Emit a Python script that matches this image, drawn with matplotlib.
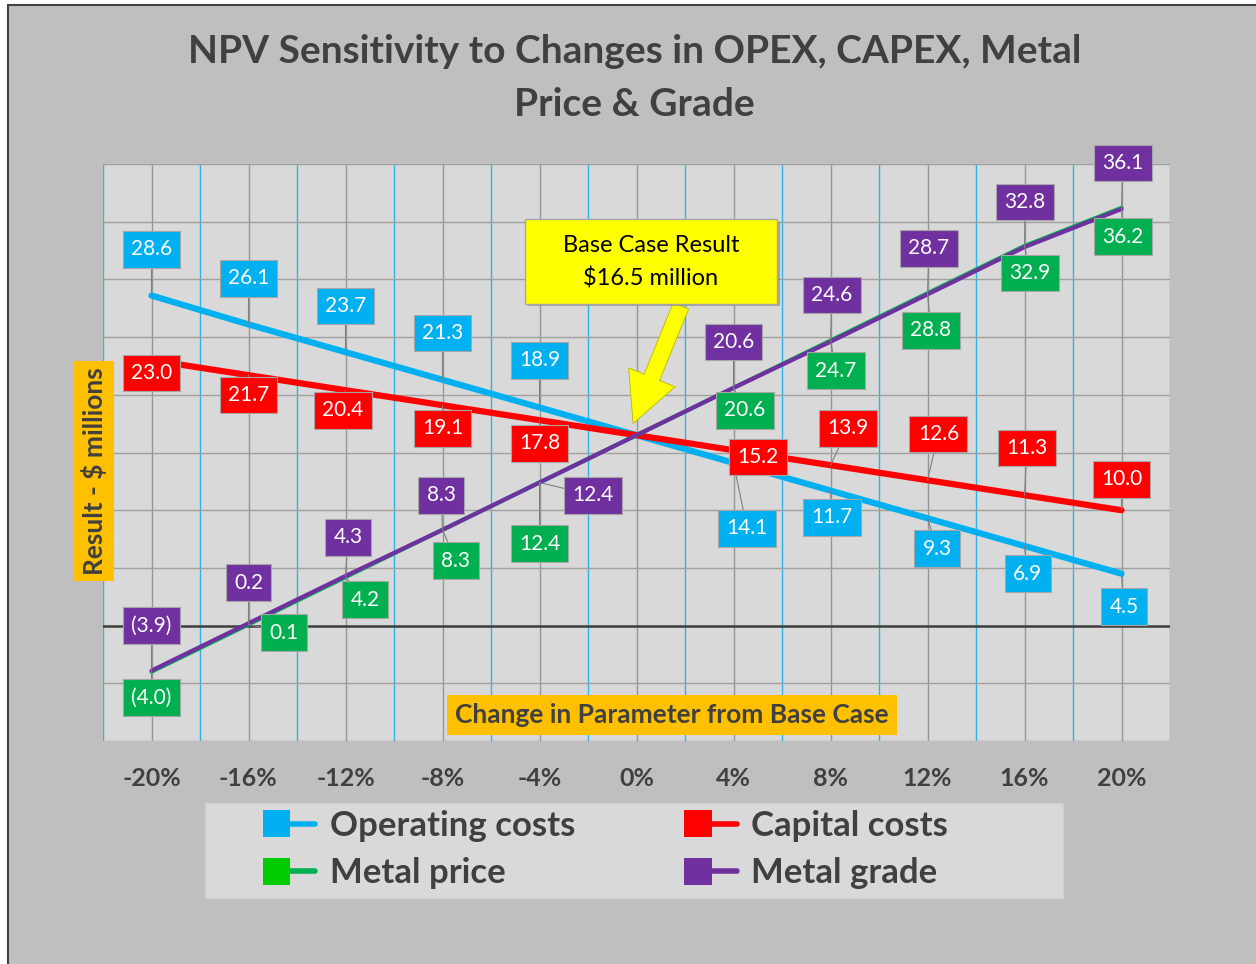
import numpy as np
import matplotlib.pyplot as plt
import matplotlib.patheffects as pe
from matplotlib.patches import Rectangle
from matplotlib.lines import Line2D
from matplotlib.legend_handler import HandlerBase

plt.rcParams['font.family'] = ['Lato', 'DejaVu Sans']

# data
changes = [-20, -16, -12, -8, -4, 0, 4, 8, 12, 16, 20]
tick_labels = ['-20%', '-16%', '-12%', '-8%', '-4%', '0%', '4%', '8%', '12%', '16%', '20%']
opex = [28.6, 26.1, 23.7, 21.3, 18.9, 16.5, 14.1, 11.7, 9.3, 6.9, 4.5]
capex = [23.0, 21.7, 20.4, 19.1, 17.8, 16.5, 15.2, 13.9, 12.6, 11.3, 10.0]
price = [-4.0, 0.1, 4.2, 8.3, 12.4, 16.5, 20.6, 24.7, 28.8, 32.9, 36.2]
grade = [-3.9, 0.2, 4.3, 8.3, 12.4, 16.5, 20.6, 24.6, 28.7, 32.8, 36.1]
base_case = 16.5

# label offsets from each point (x %, y $M); None = no label
opex_off = [(0, 4.0), (0, 4.0), (0, 4.0), (0, 4.05), (0, 4.1), None,
            (0.56, -5.68), (0.06, -2.33), (0.39, -2.62), (0.14, -2.39), (0.1, -2.85)]
capex_off = [(0, -1.1), (0, -1.73), (-0.1, -1.74), (0, -2.0), (0, -2.0), None,
             (1.0, -0.6), (0.72, 3.2), (0.45, 4.0), (0.1, 4.1), (0, 2.67)]
price_off = [(0, -2.25), (1.46, -0.7), (0.8, -1.94), (0.55, -2.66), (0, -5.3), None,
             (0.47, -1.94), (0.23, -2.6), (0.14, -3.2), (0.23, -2.34), (0.06, -2.5)]
grade_off = [(0, 3.9), (0, 3.53), (0.1, 3.34), (-0.06, 2.98), (2.21, -1.12), None,
             (0, 3.97), (0.06, 4.05), (0.06, 4.0), (0.02, 3.9), (0.05, 4.0)]

BLUE = '#00b0f0'
RED = '#ff0000'
GREEN = '#00b050'
PURPLE = '#7030a0'
DARK = '#404040'


def fmt(v):
    return '({:.1f})'.format(abs(v)) if v < 0 else '{:.1f}'.format(v)


class SquareLineHandler(HandlerBase):
    def create_artists(self, legend, orig_handle, xdescent, ydescent,
                       width, height, fontsize, trans):
        side = fontsize * 0.78
        yc = -ydescent + height / 2
        sq = Rectangle((-xdescent, yc - side / 2), side, side,
                       fc=orig_handle.get_markerfacecolor(), ec='none', transform=trans)
        ln = Line2D([-xdescent + side, -xdescent + width], [yc, yc],
                    color=orig_handle.get_color(), lw=4, solid_capstyle='round',
                    transform=trans)
        return [ln, sq]


fig = plt.figure(figsize=(12.56, 9.64), dpi=100, facecolor='white')
fig.add_artist(Rectangle((8 / 1256, -0.01), 1.1, 959 / 964 + 0.01, transform=fig.transFigure,
                         fc='#bfbfbf', ec=DARK, lw=1.5, zorder=0))

ax = fig.add_axes([103 / 1256, 223 / 964, 1067 / 1256, 577 / 964])
ax.set_facecolor('#d9d9d9')
ax.set_xlim(-22, 22)
ax.set_ylim(-10, 40)
for s in ax.spines.values():
    s.set_visible(False)

ax.set_yticks(np.arange(-10, 41, 5))
ax.set_yticklabels([])
ax.set_xticks(changes)
ax.set_xticklabels(tick_labels, fontsize=18, fontweight='bold', color=DARK)
ax.set_xticks(np.arange(-22, 23, 4), minor=True)
ax.tick_params(axis='both', which='both', length=0)
ax.tick_params(axis='x', pad=18.5)
ax.grid(axis='y', color='#a0a0a0', lw=1.0)
ax.grid(axis='x', which='major', color='#969696', lw=1.0)
ax.grid(axis='x', which='minor', color='#2fb4e8', lw=1.0)
ax.set_axisbelow(True)
ax.axhline(0, color=DARK, lw=1.8, zorder=2)

ax.plot(changes, opex, color=BLUE, lw=4.5, solid_capstyle='round', zorder=3)
ax.plot(changes, capex, color=RED, lw=4.5, solid_capstyle='round', zorder=3.1)
ax.plot(changes, price, color=GREEN, lw=3, solid_capstyle='round', zorder=3.2)
ax.plot(changes, grade, color=PURPLE, lw=3, solid_capstyle='round', zorder=3.3)

series = [(opex, opex_off, BLUE), (capex, capex_off, RED),
          (price, price_off, GREEN), (grade, grade_off, PURPLE)]
for vals, offs, col in series:
    for x, v, off in zip(changes, vals, offs):
        if off is None:
            continue
        near = abs(off[0]) < 1.2 and abs(off[1]) < 1.5
        arrow = None if near else dict(arrowstyle='-', color='#7f7f7f', lw=0.8,
                                       shrinkA=0, shrinkB=0)
        ax.annotate(fmt(v), xy=(x, v), xytext=(x + off[0], v + off[1]),
                    ha='center', va='center', color='white', fontsize=15,
                    bbox=dict(boxstyle='square,pad=0.4', fc=col, ec='#a6a6a6', lw=0.8),
                    arrowprops=arrow, zorder=6)

# base case callout
ax.annotate('', xy=(-0.14, base_case + 1.0), xytext=(1.83, 27.7),
            arrowprops=dict(arrowstyle='simple,head_length=1.8,head_width=1.8,tail_width=0.6',
                            fc='#ffff00', ec='#b8b800', lw=0.6, mutation_scale=20,
                            shrinkA=0, shrinkB=0),
            zorder=7)
box = Rectangle((-4.6, 27.9), 10.4, 7.3, fc='#ffff00', ec='#a6a6a6', lw=1, zorder=8)
box.set_path_effects([pe.SimplePatchShadow(offset=(2, -2), shadow_rgbFace='#808080', alpha=0.6),
                      pe.Normal()])
ax.add_patch(box)
ax.text(0.6, 31.5, 'Base Case Result\n$16.5 million', ha='center', va='center',
        fontsize=17, linespacing=1.65, color='black', zorder=9)

# axis title boxes
fig.text(94 / 1256, 1 - 471 / 964, 'Result - $ millions', rotation=90, ha='center', va='center',
         fontsize=19, fontweight='bold', color=DARK,
         bbox=dict(boxstyle='square,pad=0.25', fc='#ffc000', ec='none'))
fig.text(672 / 1256, 1 - 715 / 964, 'Change in Parameter from Base Case', ha='center', va='center',
         fontsize=19, fontweight='bold', color=DARK,
         bbox=dict(boxstyle='square,pad=0.3', fc='#ffc000', ec='none'))

fig.text(0.505, 1 - 78 / 964, 'NPV Sensitivity to Changes in OPEX, CAPEX, Metal\nPrice & Grade',
         ha='center', va='center', fontsize=28, fontweight='bold', color=DARK, linespacing=1.62)

# legend
fig.add_artist(Rectangle((205 / 1256, 1 - 898 / 964), 858 / 1256, 95 / 964,
                         transform=fig.transFigure, fc='#d9d9d9', ec='#cfcfcf', lw=1))
handles = [Line2D([], [], color=BLUE, markerfacecolor=BLUE),
           Line2D([], [], color=GREEN, markerfacecolor='#00cc00'),
           Line2D([], [], color=RED, markerfacecolor=RED),
           Line2D([], [], color=PURPLE, markerfacecolor=PURPLE)]
names = ['Operating costs', 'Metal price', 'Capital costs', 'Metal grade']
fig.legend(handles, names, handler_map={Line2D: SquareLineHandler()},
           loc='upper left', bbox_to_anchor=(263 / 1256, 1 - 810 / 964), ncol=2,
           frameon=False, borderaxespad=0, borderpad=0, handlelength=1.5,
           handletextpad=0.43, columnspacing=3.14, labelspacing=0.44,
           prop={'size': 25, 'weight': 'bold'}, labelcolor=DARK)

fig.savefig('out.png', dpi=100, facecolor=fig.get_facecolor())
